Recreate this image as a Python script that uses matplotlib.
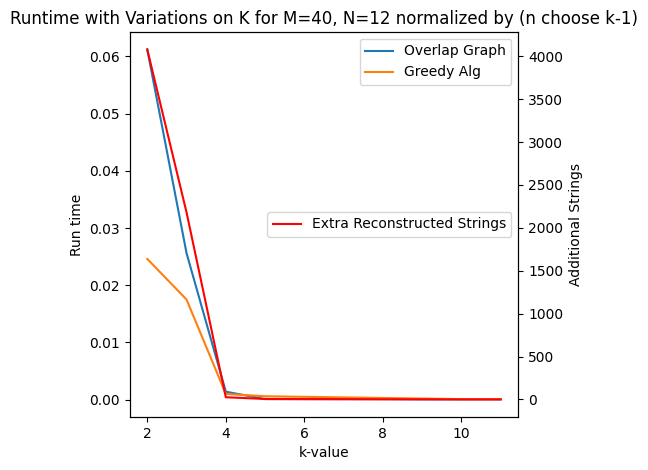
import numpy as np
import matplotlib.pyplot as plt

k_values = [2, 3, 4, 5, 6, 7, 8, 9, 10, 11]
overlap_time = [0.0612, 0.0256, 0.0014, 0.0001, 0.0001, 0.0001, 0.0001, 0.00005, 0.00005, 0.00005]
greedy_time = [0.0246, 0.0175, 0.0010, 0.0006, 0.0005, 0.0004, 0.0003, 0.0002, 0.0001, 0.0001]
extra_strings = [4080, 2180, 25, 5, 3, 2, 1, 1, 0, 0]

fig, ax = plt.subplots(figsize=(6.48, 4.7), dpi=100)
ax.plot(k_values, overlap_time, label='Overlap Graph')
ax.plot(k_values, greedy_time, label='Greedy Alg')
ax.set_xlabel('k-value')
ax.set_ylabel('Run time')
ax.legend(loc='upper right')

ax2 = ax.twinx()
ax2.plot(k_values, extra_strings, color='red', label='Extra Reconstructed Strings')
ax2.set_ylabel('Additional Strings')
ax2.legend(loc='center right')

plt.title('Runtime with Variations on K for M=40, N=12 normalized by (n choose k-1)')
plt.subplots_adjust(left=0.2, right=0.8, top=0.932, bottom=0.113)
plt.savefig('out.png')
